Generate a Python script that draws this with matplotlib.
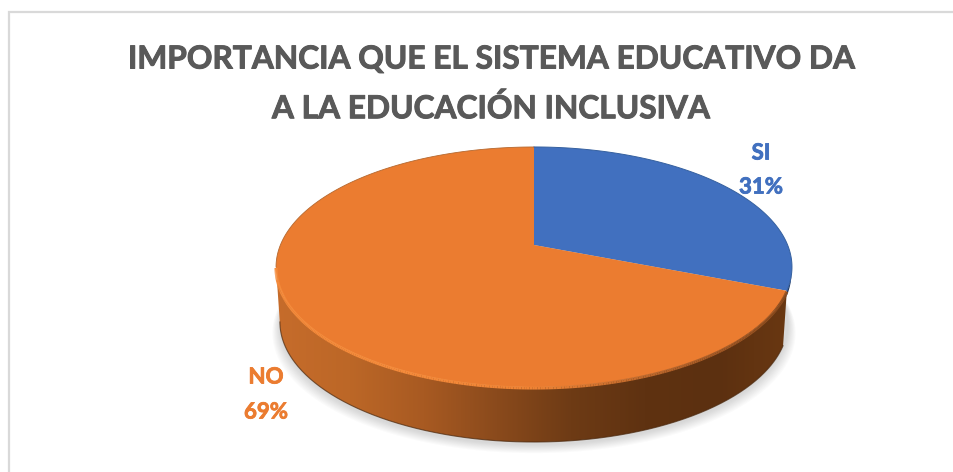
import numpy as np
import matplotlib
matplotlib.use("Agg")
import matplotlib.pyplot as plt
from matplotlib.colors import LinearSegmentedColormap
from matplotlib.collections import LineCollection
from matplotlib.patches import PathPatch
from matplotlib.path import Path
from matplotlib.transforms import Transform, Affine2D
import matplotlib.patheffects as pe

categories = ["SI", "NO"]
shares = [31, 69]
colors = ["#4170BF", "#EB7C30"]
title_lines = ["IMPORTANCIA QUE EL SISTEMA EDUCATIVO DA", "A LA EDUCACIÓN INCLUSIVA"]

W, H = 954, 472
KP = 0.1833   # perspective strength
AX, BY = 253.6, 116.0
CX, CY = 534.0, 245.0
FONT = "Lato"


class Perspective(Transform):
    input_dims = output_dims = 2
    def transform_non_affine(self, xy):
        xy = np.asarray(xy, float)
        d = 1 + KP * xy[:, 1]
        return np.column_stack([AX * xy[:, 0] / d, BY * xy[:, 1] / d])
    def transform_path_non_affine(self, path):
        # flatten the curves at a fine scale, then project the vertices
        polys = path.transformed(Affine2D().scale(2000)).to_polygons(closed_only=False)
        v = np.vstack(polys) / 2000.0
        return Path(self.transform_non_affine(v))


fig = plt.figure(figsize=(W / 100, H / 100), dpi=100, facecolor="white")
ax = fig.add_axes([0, 0, 1, 1])
wedges, _ = ax.pie(shares, colors=colors, startangle=90, counterclock=False, radius=1.0,
                   wedgeprops=dict(linewidth=0), labels=None)
ax.set_aspect("auto")
ax.set_xlim(0, W)
ax.set_ylim(H, 0)
ax.axis("off")

persp = Perspective()
top_tf = Affine2D().scale(1, -1).translate(CX, CY) + ax.transData


def rim(deg, depth=0.0, shrink=1.0):
    t = np.radians(deg)
    p = persp.transform_non_affine(np.column_stack([np.cos(t), np.sin(t)]))
    return np.column_stack([CX + p[:, 0] * shrink, CY - p[:, 1] + depth])


# frame: only the top and left rules are visible in the crop
ax.plot([9, 9, W], [H, 12, 12], color="#D9D9D9", lw=1.6, zorder=0, solid_joinstyle="miter")

# soft shadow under the disc
DEPTH, SHR = 55.0, 0.985
all_deg = np.linspace(0, 360, 361)
for i in range(10):
    pts = rim(all_deg, DEPTH + 3 + i * 0.9, SHR + 0.0032 * i)
    ax.add_patch(plt.Polygon(pts, closed=True, fc="#7F7F7F", ec="none", alpha=0.03, zorder=1))

# side wall
split = 90 - shares[0] / sum(shares) * 360
ext = -np.degrees(np.arcsin(KP))
orange_deg = np.linspace(split, -180 - ext, 300)
front_top = rim(orange_deg)
front_bot = rim(orange_deg, DEPTH, SHR)
wall_poly = np.vstack([front_top, front_bot[::-1]])
wall_patch = PathPatch(Path(wall_poly), fc="none", ec="none", transform=ax.transData)
ax.add_patch(wall_patch)
cmap = LinearSegmentedColormap.from_list(
    "wall", ["#C66C2B", "#BC6727", "#A85A22", "#8A4A1C", "#6E3B15", "#5F3211", "#5C3010", "#6A3812"])
grad = np.linspace(0, 1, 256)[None, :]
im = ax.imshow(grad, extent=(276, 792, 460, 260), cmap=cmap, aspect="auto", zorder=2,
               interpolation="bilinear")
im.set_clip_path(wall_patch)
ax.set_xlim(0, W)
ax.set_ylim(H, 0)

# blue sliver of the wall
blue_deg = np.linspace(ext, split, 30)
sl_top, sl_bot = rim(blue_deg), rim(blue_deg[::-1], 6.0, 0.998)
ax.fill(np.r_[sl_top[:, 0], sl_bot[:, 0]], np.r_[sl_top[:, 1], sl_bot[:, 1]],
        color="#1F3864", lw=0, zorder=2)

# dark lower edge of the wall
ax.plot(front_bot[:, 0], front_bot[:, 1], color="#4A280E", lw=0.8, alpha=0.7, zorder=3)

# top face
for w in wedges:
    w.set_transform(persp + top_tf)
    w.set_zorder(4)
    w.set_clip_on(False)

# bevel highlight along the front rim
seg_pts = rim(orange_deg, 1.0)
segs = np.stack([seg_pts[:-1], seg_pts[1:]], axis=1)
f = (seg_pts[:-1, 0] - 276) / 516
bev_cmap = LinearSegmentedColormap.from_list("bev", ["#F58B3B", "#F58B3B", "#EF8334", "#B8652B", "#8A4B1E"])
ax.add_collection(LineCollection(segs, colors=bev_cmap(f), linewidths=2.2, zorder=5))

# thin darker rim along the back of the disc
back_o = rim(np.linspace(90, 180 - ext, 120))
ax.plot(back_o[:, 0], back_o[:, 1], color="#B5682F", lw=0.6, zorder=5)
back_b = rim(np.linspace(90, split, 120))
ax.plot(back_b[:, 0], back_b[:, 1], color="#35609F", lw=0.7, zorder=5)

# title and labels
heavy = [pe.withStroke(linewidth=0.7, foreground="#595959")]
for s, y in zip(title_lines, [59, 108]):
    ax.text(490.5, y, s, ha="center", va="center", fontsize=22.8, fontweight="bold",
            color="#595959", family=FONT, zorder=6, path_effects=heavy)
for name, share, c, x, ys in zip(categories, shares, colors, [761, 266], [(153, 187), (377, 412)]):
    lab = [pe.withStroke(linewidth=0.6, foreground=c)]
    ax.text(x, ys[0], name, ha="center", va="center", fontsize=16, fontweight="bold",
            color=c, family=FONT, zorder=6, path_effects=lab)
    ax.text(x, ys[1], f"{share}%", ha="center", va="center", fontsize=16, fontweight="bold",
            color=c, family=FONT, zorder=6, path_effects=lab)

fig.savefig("out.png", dpi=100, facecolor="white")
